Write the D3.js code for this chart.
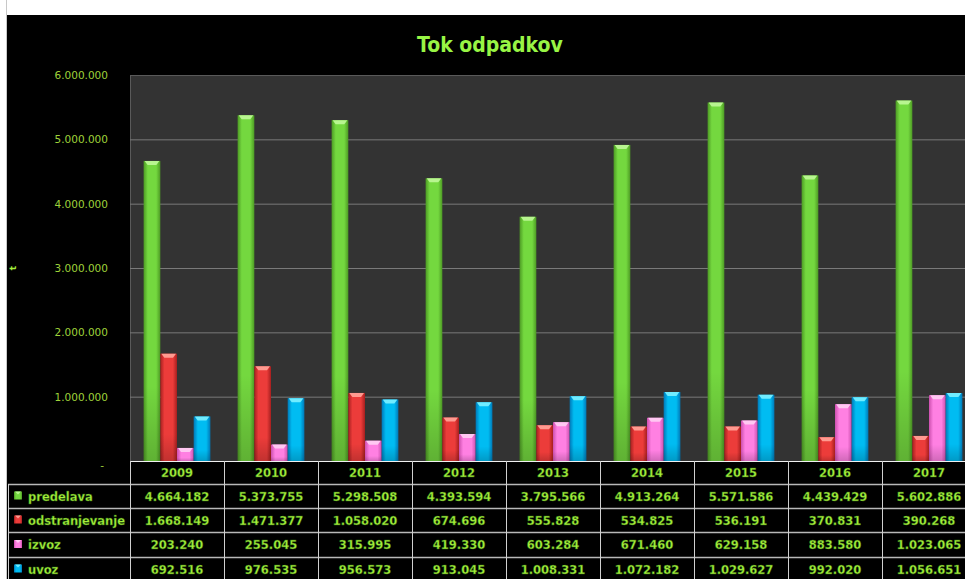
<!DOCTYPE html>
<html>
<head>
<meta charset="utf-8">
<script src="https://cdn.jsdelivr.net/npm/d3@7"></script>
<style>
  body { margin: 0; background: #fff; }
  text { font-family: "DejaVu Sans", sans-serif; }
</style>
</head>
<body>
<div class="chart"></div>
<script>
// data
var years = ['2009', '2010', '2011', '2012', '2013', '2014', '2015', '2016', '2017'];
var seriesNames = ['predelava', 'odstranjevanje', 'izvoz', 'uvoz'];
var predelava = [4664182, 5373755, 5298508, 4393594, 3795566, 4913264, 5571586, 4439429, 5602886];
var odstranjevanje = [1668149, 1471377, 1058020, 674696, 555828, 534825, 536191, 370831, 390268];
var izvoz = [203240, 255045, 315995, 419330, 603284, 671460, 629158, 883580, 1023065];
var uvoz = [692516, 976535, 956573, 913045, 1008331, 1072182, 1029627, 992020, 1056651];
var yTicks = [0, 1000000, 2000000, 3000000, 4000000, 5000000, 6000000];

function init() {
  var width = 965,
      height = 579,
      plot = { x1: 130, y1: 75, x2: 976, y2: 461 },
      rows = [484, 508, 532, 557, 581],
      textGreen = '#a6f03c',
      colors = {
        predelava:      { edge: '#4d9a24', mid: '#74d83f', cap: '#b8f590' },
        odstranjevanje: { edge: '#a61f1f', mid: '#ec3c3a', cap: '#ff9a90' },
        izvoz:          { edge: '#cc4fae', mid: '#ff80e2', cap: '#ffc8f2' },
        uvoz:           { edge: '#0078b8', mid: '#00bcf2', cap: '#70ecff' }
      },
      values = {
        predelava: predelava,
        odstranjevanje: odstranjevanje,
        izvoz: izvoz,
        uvoz: uvoz
      };

  var locale = d3.formatLocale({ decimal: ',', thousands: '.', grouping: [3], currency: ['', ''] });
  var fmt = locale.format(',d');

  var svg = d3.select('.chart')
    .append('svg')
      .attr('width', width)
      .attr('height', height);

  var defs = svg.append('defs');
  seriesNames.forEach(function(s) {
    var g = defs.append('linearGradient')
        .attr('id', 'grad-' + s)
        .attr('x1', '0').attr('x2', '1').attr('y1', '0').attr('y2', '0');
    g.append('stop').attr('offset', '0%').attr('stop-color', colors[s].edge);
    g.append('stop').attr('offset', '25%').attr('stop-color', colors[s].mid);
    g.append('stop').attr('offset', '75%').attr('stop-color', colors[s].mid);
    g.append('stop').attr('offset', '100%').attr('stop-color', colors[s].edge);
  });
  var shade = defs.append('linearGradient')
      .attr('id', 'shade')
      .attr('x1', '0').attr('x2', '0').attr('y1', '0').attr('y2', '1');
  shade.append('stop').attr('offset', '0%').attr('stop-color', '#000').attr('stop-opacity', 0);
  shade.append('stop').attr('offset', '75%').attr('stop-color', '#000').attr('stop-opacity', 0);
  shade.append('stop').attr('offset', '100%').attr('stop-color', '#000').attr('stop-opacity', 0.18);

  // frame
  svg.append('rect').attr('x', 7).attr('y', 15).attr('width', width).attr('height', height).attr('fill', '#000');
  svg.append('line').attr('x1', 6.5).attr('x2', 6.5).attr('y1', 0).attr('y2', height)
      .attr('stroke', '#c8c8c8');

  svg.append('text')
      .attr('x', 490).attr('y', 52)
      .attr('text-anchor', 'middle')
      .attr('fill', '#98f545')
      .style('font-family', '"DejaVu Sans Condensed", "DejaVu Sans", sans-serif')
      .style('font-size', '21px')
      .style('font-weight', 'bold')
      .text('Tok odpadkov');

  var x0 = d3.scaleBand().domain(years).range([plot.x1, plot.x2]);
  var x1 = d3.scaleBand().domain(seriesNames)
      .range([x0.bandwidth() * 0.145, x0.bandwidth() * 0.855]);
  var y = d3.scaleLinear().domain([0, 6000000]).range([plot.y2, plot.y1]);

  svg.append('rect')
      .attr('x', plot.x1 + 0.5).attr('y', plot.y1 + 0.5)
      .attr('width', plot.x2 - plot.x1).attr('height', plot.y2 - plot.y1)
      .attr('fill', '#333333')
      .attr('stroke', '#5a5a5a');

  var grid = svg.append('g')
      .attr('transform', 'translate(' + plot.x1 + ',0)')
      .call(d3.axisLeft(y).tickValues(yTicks.slice(1, -1)).tickSize(-(plot.x2 - plot.x1)).tickFormat(''));
  grid.select('.domain').remove();
  grid.selectAll('line').attr('stroke', '#7a7a7a');

  var yAxis = svg.append('g')
      .attr('transform', 'translate(108,0)')
      .call(d3.axisLeft(y).tickValues(yTicks).tickSize(0).tickPadding(0)
        .tickFormat(function(d) { return d === 0 ? '-' : fmt(d); }));
  yAxis.select('.domain').remove();
  yAxis.selectAll('text')
      .attr('fill', '#9fd23a')
      .style('font-size', '10.5px')
      .style('font-family', '"DejaVu Sans", sans-serif');
  yAxis.selectAll('.tick').filter(function(d) { return d === 0; }).select('text')
      .attr('dx', -4).attr('dy', '0.7em');

  svg.append('text')
      .attr('transform', 'translate(16,268) rotate(-90)')
      .attr('text-anchor', 'middle')
      .attr('fill', textGreen)
      .style('font-size', '9px')
      .style('font-weight', 'bold')
      .text('t');

  // bars
  var groups = svg.selectAll('g.year').data(years)
    .enter().append('g')
      .attr('class', 'year')
      .attr('transform', function(d) { return 'translate(' + x0(d) + ',0)'; });

  var bars = groups.selectAll('g.bar')
      .data(function(d, i) { return seriesNames.map(function(s) { return { s: s, v: values[s][i] }; }); })
    .enter().append('g')
      .attr('class', 'bar');

  var bw = x1.bandwidth();
  bars.append('rect')
      .attr('x', function(d) { return x1(d.s); })
      .attr('y', function(d) { return y(d.v); })
      .attr('width', bw)
      .attr('height', function(d) { return y(0) - y(d.v); })
      .attr('fill', function(d) { return 'url(#grad-' + d.s + ')'; });
  bars.append('rect')
      .attr('x', function(d) { return x1(d.s); })
      .attr('y', function(d) { return y(d.v); })
      .attr('width', bw)
      .attr('height', function(d) { return y(0) - y(d.v); })
      .attr('fill', 'url(#shade)');
  bars.append('path')
      .attr('d', function(d) {
        var bx = x1(d.s), by = y(d.v);
        return 'M' + (bx + 1) + ',' + by + 'L' + (bx + bw - 1) + ',' + by +
               'L' + (bx + bw - 4) + ',' + (by + 4) + 'L' + (bx + 4) + ',' + (by + 4) + 'Z';
      })
      .attr('fill', function(d) { return colors[d.s].cap; });

  // data table
  var table = svg.append('g').attr('class', 'table');
  var lineColor = '#d0d0d0';

  table.append('line')
      .attr('x1', plot.x1).attr('x2', plot.x2)
      .attr('y1', plot.y2 + 0.5).attr('y2', plot.y2 + 0.5)
      .attr('stroke', '#f0f0f0');
  table.selectAll('line.h').data(rows.slice(0, -1))
    .enter().append('line')
      .attr('class', 'h')
      .attr('x1', 8).attr('x2', plot.x2)
      .attr('y1', function(d) { return d + 0.5; }).attr('y2', function(d) { return d + 0.5; })
      .attr('stroke', '#b8b8b8').attr('stroke-width', 1.5);
  table.selectAll('line.v').data(years.concat(['end']))
    .enter().append('line')
      .attr('class', 'v')
      .attr('x1', function(d) { return d === 'end' ? plot.x2 : Math.round(x0(d)) + 0.5; })
      .attr('x2', function(d) { return d === 'end' ? plot.x2 : Math.round(x0(d)) + 0.5; })
      .attr('y1', plot.y2).attr('y2', height)
      .attr('stroke', lineColor);
  table.append('line')
      .attr('x1', 8.5).attr('x2', 8.5).attr('y1', rows[0]).attr('y2', height)
      .attr('stroke', lineColor);

  var cellText = function(sel) {
    sel.attr('fill', textGreen)
      .attr('stroke', '#2f6a10').attr('stroke-width', 0.4)
      .style('font-size', '11.5px')
      .style('font-weight', 'bold');
  };

  table.selectAll('text.year').data(years)
    .enter().append('text')
      .attr('class', 'year')
      .attr('x', function(d) { return x0(d) + x0.bandwidth() / 2; })
      .attr('y', 477)
      .attr('text-anchor', 'middle')
      .text(function(d) { return d; })
      .call(cellText);

  seriesNames.forEach(function(s, r) {
    var top = rows[r], mid = (rows[r] + rows[r + 1]) / 2;
    table.append('rect')
        .attr('x', 14).attr('y', mid - 4.5)
        .attr('width', 8).attr('height', 8)
        .attr('fill', 'url(#grad-' + s + ')');
    table.append('path')
        .attr('d', 'M15,' + (mid - 4.5) + 'L21,' + (mid - 4.5) + 'L18,' + (mid - 1.5) + 'Z')
        .attr('fill', colors[s].cap);
    table.append('text')
        .attr('x', 28).attr('y', mid + 4.5)
        .text(s)
        .call(cellText);
    table.selectAll('text.v' + r).data(values[s])
      .enter().append('text')
        .attr('class', 'v' + r)
        .attr('x', function(d, i) { return x0(years[i]) + x0.bandwidth() / 2; })
        .attr('y', mid + 4.5)
        .attr('text-anchor', 'middle')
        .text(function(d) { return fmt(d); })
        .call(cellText);
  });

  svg.append('rect').attr('x', 7).attr('y', 0).attr('width', width).attr('height', 15).attr('fill', '#fff');
}

d3.select(window).on('load', init);
</script>
</body>
</html>
